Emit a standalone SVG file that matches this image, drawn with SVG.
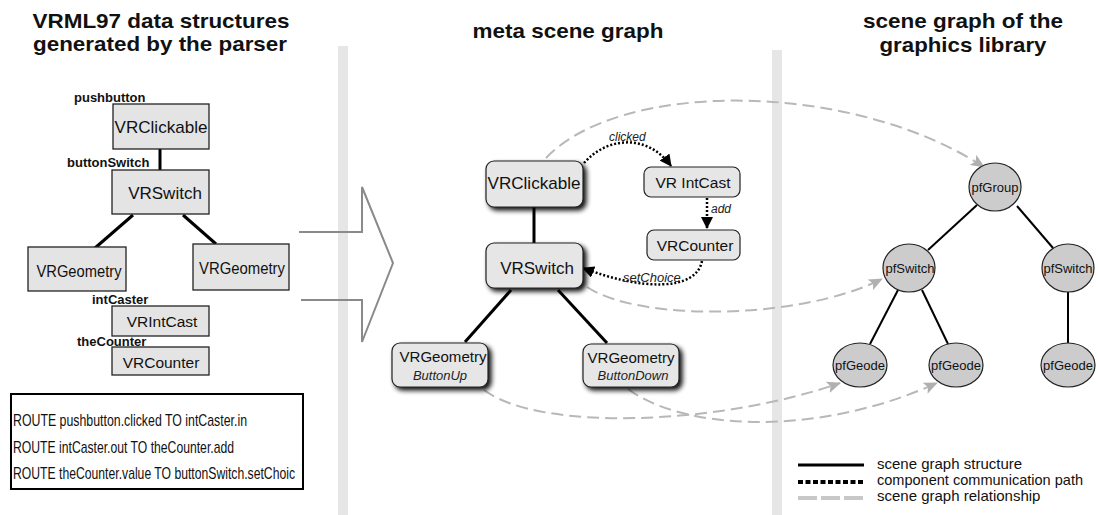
<svg xmlns="http://www.w3.org/2000/svg" width="1098" height="515" viewBox="0 0 1098 515">
  <style>
    .title { font-family: "Liberation Sans", Arial, sans-serif; font-weight: bold; font-size: 21px; fill: #111; text-anchor: middle; }
    .lbl { font-family: "Liberation Sans", Arial, sans-serif; font-weight: bold; font-size: 13px; fill: #111; }
    .box { fill: #e4e4e4; stroke: #222; stroke-width: 1.3; }
    .rbox { fill: #e6e6e6; stroke: #222; stroke-width: 1.2; }
    .ell { fill: #cccccc; stroke: #222; stroke-width: 1.2; }
    .nt { font-family: "Liberation Sans", Arial, sans-serif; fill: #111; text-anchor: middle; }
    .it { font-family: "Liberation Sans", Arial, sans-serif; font-style: italic; fill: #222; }
    .tree { stroke: #000; stroke-width: 3; fill: none; }
    .tree2 { stroke: #000; stroke-width: 2; fill: none; }
    .dot { stroke: #000; stroke-width: 2.5; stroke-dasharray: 2 2; fill: none; }
    .rel { stroke: #b8b8b8; stroke-width: 2; stroke-dasharray: 12 6; fill: none; }
    .route { font-family: "Liberation Sans", Arial, sans-serif; font-size: 17px; fill: #111; }
    .leg { font-family: "Liberation Sans", Arial, sans-serif; font-size: 15px; fill: #111; }
    .bar { fill: #e6e6e6; }
  </style>
  <defs>
    <filter id="shadow" x="-20%" y="-20%" width="150%" height="160%">
      <feGaussianBlur in="SourceAlpha" stdDeviation="2.4"/>
      <feOffset dx="3" dy="3" result="b"/>
      <feComponentTransfer><feFuncA type="linear" slope="0.95"/></feComponentTransfer>
      <feMerge><feMergeNode/><feMergeNode in="SourceGraphic"/></feMerge>
    </filter>
    <marker id="ahBlack" markerUnits="userSpaceOnUse" markerWidth="12" markerHeight="12" refX="11" refY="6" orient="auto">
      <path d="M0,0 L12,6 L0,12 z" fill="#000"/>
    </marker>
    <marker id="ahGray" markerUnits="userSpaceOnUse" markerWidth="14" markerHeight="12" refX="13" refY="6" orient="auto">
      <path d="M0,0 L14,6 L0,12 L3,6 z" fill="#b0b0b0"/>
    </marker>
  </defs>

  <!-- separators -->
  <rect class="bar" x="338" y="46" width="10" height="469"/>
  <rect class="bar" x="772" y="50" width="10" height="465"/>

  <!-- headings -->
  <text class="title" x="161" y="28" textLength="257" lengthAdjust="spacingAndGlyphs">VRML97 data structures</text>
  <text class="title" x="160" y="51" textLength="254" lengthAdjust="spacingAndGlyphs">generated by the parser</text>
  <text class="title" x="568" y="38" textLength="191" lengthAdjust="spacingAndGlyphs">meta scene graph</text>
  <text class="title" x="963" y="28" textLength="200" lengthAdjust="spacingAndGlyphs">scene graph of the</text>
  <text class="title" x="963" y="52" textLength="167" lengthAdjust="spacingAndGlyphs">graphics library</text>

  <!-- transition arrow -->
  <path d="M299 232 L362 232 L362 187 L393 263 L362 342 L362 300 L301 300" fill="none" stroke="#8a8a8a" stroke-width="2"/>

  <!-- connectors -->
  <g id="connectors">
    <!-- parser tree -->
    <line class="tree" x1="160" y1="149" x2="160" y2="170"/>
    <line class="tree" x1="133" y1="215" x2="95" y2="248"/>
    <line class="tree" x1="183" y1="215" x2="216" y2="244"/>
    <!-- meta scene graph tree -->
    <line class="tree" x1="534" y1="207" x2="534" y2="243"/>
    <line class="tree" x1="511" y1="290" x2="465" y2="342"/>
    <line class="tree" x1="558" y1="290" x2="607" y2="343"/>
    <!-- library tree -->
    <line class="tree2" x1="977" y1="205" x2="928" y2="250"/>
    <line class="tree2" x1="1017" y1="206" x2="1053" y2="248"/>
    <line class="tree2" x1="898" y1="290" x2="870" y2="344"/>
    <line class="tree2" x1="922" y1="290" x2="948" y2="344"/>
    <line class="tree2" x1="1068" y1="292" x2="1068" y2="343"/>
    <!-- routes -->
    <path class="dot" d="M584 163 C608 136 648 134 671 166" marker-end="url(#ahBlack)"/>
    <path class="dot" d="M707 198 L707 228" marker-end="url(#ahBlack)"/>
    <path class="dot" d="M702 261 C696 292 640 290 583 268" marker-end="url(#ahBlack)"/>
    <!-- node relationships -->
    <path class="rel" d="M546 158 C620 80 850 80 984 167" marker-end="url(#ahGray)"/>
    <path class="rel" d="M587 287 C640 322 800 320 882 279" marker-end="url(#ahGray)"/>
    <path class="rel" d="M484 390 C540 432 720 425 840 383" marker-end="url(#ahGray)"/>
    <path class="rel" d="M628 389 C680 428 810 440 937 383" marker-end="url(#ahGray)"/>
  </g>

  <!-- parser output -->
  <g id="pushbutton">
    <text class="lbl" x="74" y="102">pushbutton</text>
    <rect class="box" x="113" y="104" width="96" height="45"/>
    <text class="nt" x="161" y="133" font-size="17" textLength="93" lengthAdjust="spacingAndGlyphs">VRClickable</text>
  </g>
  <g id="buttonSwitch">
    <text class="lbl" x="67" y="167">buttonSwitch</text>
    <rect class="box" x="112" y="170" width="97" height="44"/>
    <text class="nt" x="165" y="199" font-size="17">VRSwitch</text>
  </g>
  <g id="geometryLeft">
    <rect class="box" x="28" y="247" width="98" height="44"/>
    <text class="nt" x="79" y="277" font-size="16" textLength="85" lengthAdjust="spacingAndGlyphs">VRGeometry</text>
  </g>
  <g id="geometryRight">
    <rect class="box" x="193" y="244" width="96" height="46"/>
    <text class="nt" x="242" y="274" font-size="16" textLength="86" lengthAdjust="spacingAndGlyphs">VRGeometry</text>
  </g>
  <g id="intCaster">
    <text class="lbl" x="92" y="304">intCaster</text>
    <rect class="box" x="112" y="306" width="97" height="30"/>
    <text class="nt" x="162" y="327" font-size="15.5">VRIntCast</text>
  </g>
  <g id="theCounter">
    <text class="lbl" x="77" y="346">theCounter</text>
    <rect class="box" x="112" y="347" width="97" height="28"/>
    <text class="nt" x="161" y="368" font-size="15.5">VRCounter</text>
  </g>
  <g id="routes">
    <rect x="11" y="394" width="292" height="95" fill="#fff" stroke="#000" stroke-width="2"/>
    <text class="route" x="13" y="426" textLength="234" lengthAdjust="spacingAndGlyphs">ROUTE pushbutton.clicked TO intCaster.in</text>
    <text class="route" x="13" y="453" textLength="221" lengthAdjust="spacingAndGlyphs">ROUTE intCaster.out TO theCounter.add</text>
    <text class="route" x="13" y="479" textLength="282" lengthAdjust="spacingAndGlyphs">ROUTE theCounter.value TO buttonSwitch.setChoic</text>
  </g>

  <!-- meta scene graph -->
  <g id="metaClickable">
    <rect class="rbox" x="486" y="161" width="97" height="46" rx="8" filter="url(#shadow)"/>
    <text class="nt" x="534" y="189" font-size="17" textLength="93" lengthAdjust="spacingAndGlyphs">VRClickable</text>
  </g>
  <g id="metaSwitch">
    <rect class="rbox" x="486" y="243" width="97" height="45" rx="8" filter="url(#shadow)"/>
    <text class="nt" x="537" y="274" font-size="17">VRSwitch</text>
  </g>
  <g id="metaIntCast">
    <rect class="rbox" x="644" y="167" width="96" height="30" rx="7"/>
    <text class="nt" x="693" y="188" font-size="15.5">VR IntCast</text>
  </g>
  <g id="metaCounter">
    <rect class="rbox" x="647" y="230" width="93" height="30" rx="7"/>
    <text class="nt" x="695" y="251" font-size="15.5">VRCounter</text>
  </g>
  <g id="metaGeometryUp">
    <rect class="rbox" x="392" y="343" width="96" height="44" rx="8" filter="url(#shadow)"/>
    <text class="nt" x="443" y="362" font-size="15.5" textLength="87" lengthAdjust="spacingAndGlyphs">VRGeometry</text>
    <text class="it" x="440" y="380" font-size="13" text-anchor="middle">ButtonUp</text>
  </g>
  <g id="metaGeometryDown">
    <rect class="rbox" x="583" y="344" width="96" height="43" rx="8" filter="url(#shadow)"/>
    <text class="nt" x="631" y="363" font-size="15.5" textLength="87" lengthAdjust="spacingAndGlyphs">VRGeometry</text>
    <text class="it" x="633" y="380" font-size="13" text-anchor="middle">ButtonDown</text>
  </g>
  <g id="routeLabels">
    <text class="it" x="609" y="141" font-size="12">clicked</text>
    <text class="it" x="711" y="213" font-size="12">add</text>
    <text class="it" x="623" y="282" font-size="13">setChoice</text>
  </g>

  <!-- library scene graph -->
  <g id="pfGroup">
    <ellipse class="ell" cx="995" cy="187" rx="26" ry="24"/>
    <text class="nt" x="995" y="192" font-size="13">pfGroup</text>
  </g>
  <g id="pfSwitchLeft">
    <ellipse class="ell" cx="909" cy="268" rx="26" ry="24"/>
    <text class="nt" x="910" y="273" font-size="13">pfSwitch</text>
  </g>
  <g id="pfSwitchRight">
    <ellipse class="ell" cx="1068" cy="268" rx="26" ry="24"/>
    <text class="nt" x="1068" y="273" font-size="13">pfSwitch</text>
  </g>
  <g id="pfGeodeLeft">
    <ellipse class="ell" cx="860" cy="365" rx="27" ry="22"/>
    <text class="nt" x="860" y="370" font-size="13">pfGeode</text>
  </g>
  <g id="pfGeodeMiddle">
    <ellipse class="ell" cx="956" cy="365" rx="27" ry="22"/>
    <text class="nt" x="956" y="370" font-size="13">pfGeode</text>
  </g>
  <g id="pfGeodeRight">
    <ellipse class="ell" cx="1068" cy="365" rx="27" ry="22"/>
    <text class="nt" x="1068" y="370" font-size="13">pfGeode</text>
  </g>

  <!-- legend -->
  <g id="legend">
    <line x1="798" y1="465" x2="864" y2="465" stroke="#000" stroke-width="3"/>
    <text class="leg" x="877" y="469">scene graph structure</text>
    <line x1="798" y1="482" x2="865" y2="482" stroke="#000" stroke-width="4" stroke-dasharray="5 2.5"/>
    <text class="leg" x="877" y="485" textLength="206" lengthAdjust="spacingAndGlyphs">component communication path</text>
    <line x1="798" y1="498" x2="865" y2="498" stroke="#c8c8c8" stroke-width="4" stroke-dasharray="19 4"/>
    <text class="leg" x="877" y="501">scene graph relationship</text>
  </g>
</svg>
